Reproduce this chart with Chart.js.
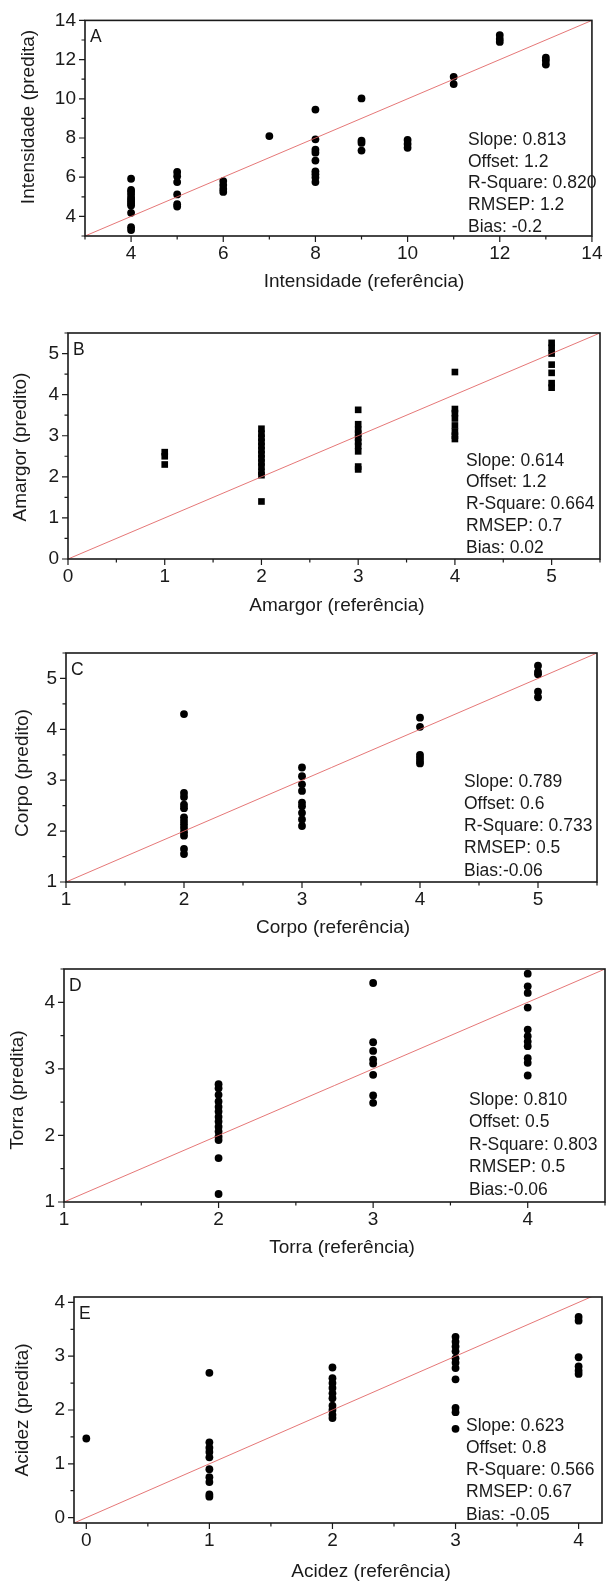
<!DOCTYPE html>
<html>
<head>
<meta charset="utf-8">
<script src="https://cdn.jsdelivr.net/npm/chart.js@4"></script>
<style>
  body { margin: 0; background: #fff; }
  #page { position: relative; width: 609px; height: 1582px; }
  .panel { position: absolute; left: 0; width: 609px; }
</style>
</head>
<body>
<div id="page"></div>
<script>
// A - Intensidade
let aLevels = [4, 5, 6, 7, 8, 9, 10, 11, 12, 13];
let aPred = [
  [5.92, 5.35, 5.25, 5.1, 4.95, 4.85, 4.75, 4.65, 4.55, 4.18, 3.45, 3.3],
  [6.27, 6.05, 5.75, 5.12, 4.62, 4.5],
  [5.8, 5.6, 5.4, 5.25],
  [8.1],
  [9.45, 7.93, 7.4, 7.25, 6.85, 6.3, 6.15, 5.98, 5.75],
  [10.02, 7.86, 7.75, 7.36],
  [7.9, 7.7, 7.5],
  [11.12, 10.75],
  [13.25, 13.05, 12.9],
  [12.1, 11.95, 11.75]
];
let aStats = ["Slope: 0.813", "Offset: 1.2", "R-Square: 0.820", "RMSEP: 1.2", "Bias: -0.2"];

// B - Amargor
let bLevels = [1, 2, 3, 4, 5];
let bPred = [
  [2.6, 2.5, 2.3],
  [3.17, 3.05, 2.95, 2.85, 2.75, 2.65, 2.55, 2.45, 2.35, 2.25, 2.12, 2.04, 1.4],
  [3.63, 3.28, 3.15, 3.05, 2.95, 2.85, 2.75, 2.62, 2.25, 2.18],
  [4.55, 3.65, 3.55, 3.42, 3.25, 3.1, 3.0, 2.92],
  [5.26, 5.14, 5.0, 4.73, 4.53, 4.28, 4.17]
];
let bStats = ["Slope: 0.614", "Offset: 1.2", "R-Square: 0.664", "RMSEP: 0.7", "Bias: 0.02"];

// C - Corpo
let cLevels = [2, 3, 4, 5];
let cPred = [
  [4.3, 2.75, 2.67, 2.52, 2.45, 2.27, 2.2, 2.13, 2.06, 1.98, 1.91, 1.65, 1.55],
  [3.25, 3.08, 2.92, 2.79, 2.56, 2.49, 2.36, 2.23, 2.1],
  [4.23, 4.05, 3.5, 3.44, 3.38, 3.33],
  [5.25, 5.13, 5.08, 4.74, 4.63]
];
let cStats = ["Slope: 0.789", "Offset: 0.6", "R-Square: 0.733", "RMSEP: 0.5", "Bias:-0.06"];

// D - Torra
let dLevels = [2, 3, 4];
let dPred = [
  [2.77, 2.71, 2.61, 2.51, 2.43, 2.36, 2.28, 2.21, 2.13, 2.06, 1.98, 1.93, 1.66, 1.12],
  [4.29, 3.4, 3.27, 3.14, 3.08, 2.91, 2.6, 2.49],
  [4.43, 4.24, 4.14, 3.92, 3.59, 3.49, 3.41, 3.34, 3.16, 3.09, 2.9]
];
let dStats = ["Slope: 0.810", "Offset: 0.5", "R-Square: 0.803", "RMSEP: 0.5", "Bias:-0.06"];

// E - Acidez
let eLevels = [0, 1, 2, 3, 4];
let ePred = [
  [1.47],
  [2.69, 1.4, 1.3, 1.22, 1.12, 0.9, 0.75, 0.66, 0.43, 0.39],
  [2.79, 2.59, 2.5, 2.41, 2.31, 2.22, 2.08, 2.0, 1.91, 1.85],
  [3.36, 3.27, 3.18, 3.09, 2.96, 2.88, 2.78, 2.57, 2.04, 1.96, 1.65],
  [3.73, 3.66, 2.98, 2.81, 2.73, 2.67]
];
let eStats = ["Slope: 0.623", "Offset: 0.8", "R-Square: 0.566", "RMSEP: 0.67", "Bias: -0.05"];

const FONT = "'Liberation Sans', Arial, sans-serif";
const INK = "#1a1a1a";

let panels = [
  {
    letter: "A", levels: aLevels, pred: aPred, stats: aStats, marker: "circle",
    xTitle: "Intensidade (referência)", yTitle: "Intensidade (predita)",
    xRange: [3, 14], yRange: [3, 14],
    xMajor: [4, 6, 8, 10, 12, 14], xMinor: [3, 5, 7, 9, 11, 13],
    yMajor: [4, 6, 8, 10, 12, 14], yMinor: [3, 5, 7, 9, 11, 13],
    top: 0, h: 300, area: [85, 597, 17, 236],
    xTitlePos: [364, 282], yTitlePos: [29, 117], statsPos: [468, 140, 21.8]
  },
  {
    letter: "B", levels: bLevels, pred: bPred, stats: bStats, marker: "rect",
    xTitle: "Amargor (referência)", yTitle: "Amargor (predito)",
    xRange: [0, 5.5], yRange: [0, 5.5],
    xMajor: [0, 1, 2, 3, 4, 5], xMinor: [0.5, 1.5, 2.5, 3.5, 4.5, 5.5],
    yMajor: [0, 1, 2, 3, 4, 5], yMinor: [0.5, 1.5, 2.5, 3.5, 4.5, 5.5],
    top: 300, h: 320, area: [68, 600, 33, 259],
    xTitlePos: [337, 306], yTitlePos: [21, 147], statsPos: [466, 160.7, 21.9]
  },
  {
    letter: "C", levels: cLevels, pred: cPred, stats: cStats, marker: "circle",
    xTitle: "Corpo (referência)", yTitle: "Corpo (predito)",
    xRange: [1, 5.5], yRange: [1, 5.5],
    xMajor: [1, 2, 3, 4, 5], xMinor: [1.5, 2.5, 3.5, 4.5, 5.5],
    yMajor: [1, 2, 3, 4, 5], yMinor: [1.5, 2.5, 3.5, 4.5, 5.5],
    top: 620, h: 320, area: [66, 597, 33, 262],
    xTitlePos: [333, 308], yTitlePos: [23, 153], statsPos: [464, 162.3, 22.1]
  },
  {
    letter: "D", levels: dLevels, pred: dPred, stats: dStats, marker: "circle",
    xTitle: "Torra (referência)", yTitle: "Torra (predita)",
    xRange: [1, 4.5], yRange: [1, 4.5],
    xMajor: [1, 2, 3, 4], xMinor: [1.5, 2.5, 3.5, 4.5],
    yMajor: [1, 2, 3, 4], yMinor: [1.5, 2.5, 3.5, 4.5],
    top: 940, h: 322, area: [64, 605, 29, 262],
    xTitlePos: [342, 308], yTitlePos: [18, 150], statsPos: [469, 160, 22.5]
  },
  {
    letter: "E", levels: eLevels, pred: ePred, stats: eStats, marker: "circle",
    xTitle: "Acidez (referência)", yTitle: "Acidez (predita)",
    xRange: [-0.1, 4.19], yRange: [-0.1, 4.1],
    xMajor: [0, 1, 2, 3, 4], xMinor: [0.5, 1.5, 2.5, 3.5],
    yMajor: [0, 1, 2, 3, 4], yMinor: [0.5, 1.5, 2.5, 3.5],
    top: 1262, h: 320, area: [74, 602, 35, 261],
    xTitlePos: [371, 310], yTitlePos: [23, 148], statsPos: [466, 164, 22.2]
  }
];

// frame, outward ticks, panel letter, stats and axis titles
let decorPlugin = {
  id: "decor",
  afterDraw(chart, args, p) {
    let ctx = chart.ctx;
    let a = chart.chartArea;
    let xs = chart.scales.x;
    let ys = chart.scales.y;
    ctx.save();
    ctx.strokeStyle = INK;
    ctx.lineWidth = 1.6;
    ctx.strokeRect(a.left, a.top, a.right - a.left, a.bottom - a.top);

    ctx.lineWidth = 1.2;
    ctx.beginPath();
    p.xMajor.forEach(v => { let px = xs.getPixelForValue(v); ctx.moveTo(px, a.bottom); ctx.lineTo(px, a.bottom + 6); });
    p.xMinor.forEach(v => { let px = xs.getPixelForValue(v); ctx.moveTo(px, a.bottom); ctx.lineTo(px, a.bottom + 3.5); });
    p.yMajor.forEach(v => { let py = ys.getPixelForValue(v); ctx.moveTo(a.left, py); ctx.lineTo(a.left - 6, py); });
    p.yMinor.forEach(v => { let py = ys.getPixelForValue(v); ctx.moveTo(a.left, py); ctx.lineTo(a.left - 3.5, py); });
    ctx.stroke();

    ctx.fillStyle = INK;
    ctx.textBaseline = "middle";
    ctx.textAlign = "left";
    ctx.font = "17.5px " + FONT;
    ctx.fillText(p.letter, a.left + 5, a.top + 17);

    let [sx, sy, dy] = p.statsPos;
    p.stats.forEach((s, i) => ctx.fillText(s, sx, sy + i * dy));

    ctx.font = "19px " + FONT;
    ctx.textAlign = "center";
    ctx.fillText(p.xTitle, p.xTitlePos[0], p.xTitlePos[1]);
    ctx.translate(p.yTitlePos[0], p.yTitlePos[1]);
    ctx.rotate(-Math.PI / 2);
    ctx.fillText(p.yTitle, 0, 0);
    ctx.restore();
  }
};

let page = document.getElementById("page");

panels.forEach(p => {
  let div = document.createElement("div");
  div.className = "panel";
  div.style.top = p.top + "px";
  div.style.height = p.h + "px";
  let canvas = document.createElement("canvas");
  canvas.width = 609;
  canvas.height = p.h;
  div.appendChild(canvas);
  page.appendChild(div);

  let points = [];
  p.levels.forEach((lv, i) => {
    p.pred[i].forEach(v => points.push({ x: lv, y: v }));
  });

  let [left, right, top, bottom] = p.area;
  let lo = Math.min(p.xRange[0], p.yRange[0]);
  let hi = Math.max(p.xRange[1], p.yRange[1]);

  new Chart(canvas.getContext("2d"), {
    type: "scatter",
    data: {
      datasets: [
        {
          data: points,
          pointStyle: p.marker,
          pointRadius: p.marker === "rect" ? 4.7 : 3.9,
          pointHoverRadius: p.marker === "rect" ? 4.7 : 3.9,
          backgroundColor: "#000",
          borderWidth: 0,
          order: 2
        },
        {
          type: "line",
          data: [{ x: lo, y: lo }, { x: hi, y: hi }],
          borderColor: "rgba(225, 95, 95, 0.85)",
          borderWidth: 1,
          pointRadius: 0,
          fill: false,
          order: 1
        }
      ]
    },
    options: {
      responsive: false,
      animation: false,
      devicePixelRatio: 1,
      layout: { padding: { left: 0, right: 609 - right, top: top, bottom: 0 } },
      plugins: {
        legend: { display: false },
        tooltip: { enabled: false },
        decor: p
      },
      scales: {
        x: {
          type: "linear",
          min: p.xRange[0],
          max: p.xRange[1],
          afterBuildTicks: s => { s.ticks = p.xMajor.map(v => ({ value: v })); },
          afterFit: s => { s.height = p.h - bottom; },
          grid: { display: false, drawTicks: false },
          border: { display: false },
          ticks: {
            color: INK,
            padding: 6.5,
            maxRotation: 0,
            autoSkip: false,
            font: { family: FONT, size: 19 },
            callback: v => String(v)
          }
        },
        y: {
          type: "linear",
          min: p.yRange[0],
          max: p.yRange[1],
          afterBuildTicks: s => { s.ticks = p.yMajor.map(v => ({ value: v })); },
          afterFit: s => { s.width = left; },
          grid: { display: false, drawTicks: false },
          border: { display: false },
          ticks: {
            color: INK,
            padding: 9,
            autoSkip: false,
            font: { family: FONT, size: 19 },
            callback: v => String(v)
          }
        }
      }
    },
    plugins: [decorPlugin]
  });
});
</script>
</body>
</html>
